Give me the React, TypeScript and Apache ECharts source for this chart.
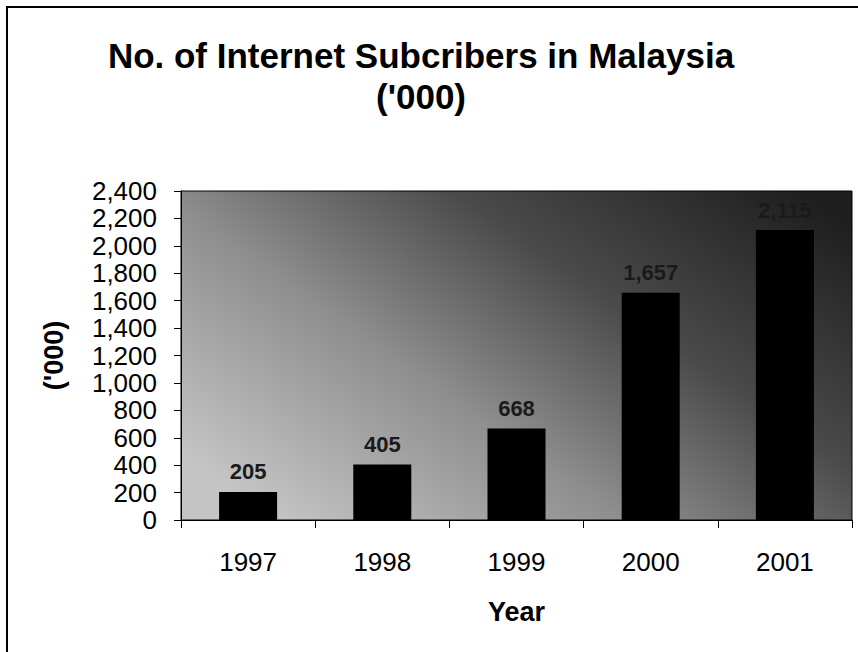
import React, { useEffect, useRef } from "react";
import * as echarts from "echarts";

const years = ["1997", "1998", "1999", "2000", "2001"];
const subscribers = [205, 405, 668, 1657, 2115];
const titleLines = ["No. of Internet Subcribers in Malaysia", "('000)"];
const yAxisTitle = "('000)";
const xAxisTitle = "Year";

const FONT = "'Liberation Sans', Arial, sans-serif";

export default function App() {
  const ref = useRef<HTMLDivElement>(null);
  useEffect(() => {
    if (!ref.current) return;
    const chart = echarts.init(ref.current, null, { renderer: "svg" });
    const fmt = (v: number) => v.toLocaleString("en-US");
    chart.setOption({
      animation: false,
      backgroundColor: "#ffffff",
      title: {
        text: titleLines.join("\n"),
        left: 421,
        top: 35,
        padding: 0,
        textAlign: "center",
        textStyle: {
          fontFamily: FONT,
          fontSize: 35,
          fontWeight: "bold",
          color: "#000",
          lineHeight: 41,
        },
      },
      graphic: [
        {
          type: "rect",
          shape: { x: 7, y: 7, width: 900, height: 700 },
          style: { fill: "none", stroke: "#000", lineWidth: 2 },
          silent: true,
          z: -1,
        },
      ],
      grid: {
        left: 181,
        right: 6,
        top: 191,
        bottom: 132,
        show: true,
        borderColor: "#000",
        borderWidth: 1,
        backgroundColor: {
          type: "linear",
          x: 0,
          y: 0.8,
          x2: 1,
          y2: 0.1,
          colorStops: [
            { offset: 0, color: "#c4c4c4" },
            { offset: 0.35, color: "#8e8e8e" },
            { offset: 0.65, color: "#4a4a4a" },
            { offset: 1, color: "#1e1e1e" },
          ],
        },
      },
      xAxis: {
        type: "category",
        data: years,
        boundaryGap: true,
        name: xAxisTitle,
        nameLocation: "middle",
        nameGap: 78,
        nameTextStyle: {
          fontFamily: FONT,
          fontSize: 27,
          fontWeight: "bold",
          color: "#000",
        },
        axisLine: { show: true, lineStyle: { color: "#000", width: 1 } },
        axisTick: { show: true, length: 8, lineStyle: { color: "#000" } },
        axisLabel: {
          fontFamily: FONT,
          fontSize: 26,
          color: "#000",
          margin: 29,
        },
        splitLine: { show: false },
      },
      yAxis: {
        type: "value",
        min: 0,
        max: 2400,
        interval: 200,
        name: yAxisTitle,
        nameLocation: "middle",
        nameGap: 114,
        nameRotate: 90,
        nameTextStyle: {
          fontFamily: FONT,
          fontSize: 27,
          fontWeight: "bold",
          color: "#000",
        },
        axisLine: { show: true, lineStyle: { color: "#000", width: 1 } },
        axisTick: { show: true, length: 7, lineStyle: { color: "#000" } },
        axisLabel: {
          fontFamily: FONT,
          fontSize: 26,
          color: "#000",
          margin: 24,
          formatter: (v: number) => fmt(v),
        },
        splitLine: { show: false },
      },
      series: [
        {
          type: "bar",
          data: subscribers,
          barWidth: 58,
          itemStyle: { color: "#000" },
          label: {
            show: true,
            position: "top",
            distance: 9,
            fontFamily: FONT,
            fontSize: 22,
            fontWeight: "bold",
            color: "#1a1a1a",
            formatter: (p: any) => fmt(p.value),
          },
        },
      ],
    });
    return () => chart.dispose();
  }, []);
  return (
    <div
      ref={ref}
      style={{ position: "absolute", left: 0, top: 0, width: 858, height: 652 }}
    />
  );
}
